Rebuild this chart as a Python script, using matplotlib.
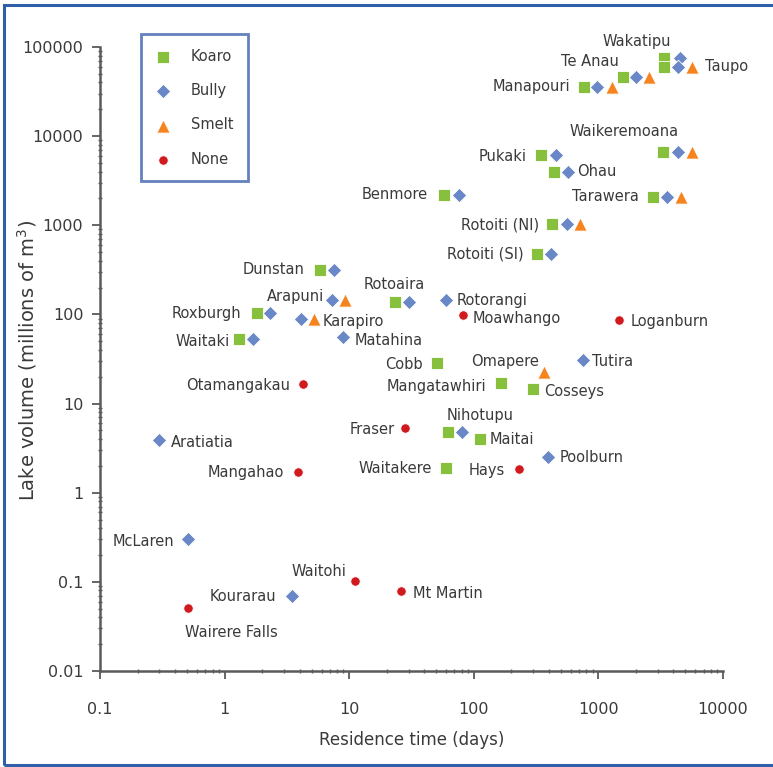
import matplotlib
matplotlib.use('Agg')
import matplotlib.pyplot as plt
from matplotlib.patches import Rectangle

# Koaro
koaro_lakes = ['Wakatipu', 'Taupo', 'Te Anau', 'Manapouri', 'Waikeremoana', 'Pukaki',
               'Ohau', 'Benmore', 'Tarawera', 'Rotoiti (NI)', 'Rotoiti (SI)', 'Dunstan',
               'Roxburgh', 'Waitaki', 'Rotoaira', 'Cobb', 'Mangatawhiri', 'Cosseys',
               'Nihotupu', 'Maitai', 'Waitakere']
koaro_time = [3340, 3340, 1570, 763, 3280, 345, 438, 57.5, 2730, 422, 320, 5.8,
              1.82, 1.30, 23.2, 50.5, 165, 297, 61.8, 112, 59.6]
koaro_volume = [75900, 60100, 46400, 35800, 6680, 6180, 3980, 2200, 2090, 1040, 479, 317,
                104, 53, 138, 28.6, 17.1, 14.6, 4.81, 4.02, 1.90]

# Bully
bully_lakes = ['Wakatipu', 'Taupo', 'Te Anau', 'Manapouri', 'Waikeremoana', 'Pukaki',
               'Ohau', 'Benmore', 'Tarawera', 'Rotoiti (NI)', 'Rotoiti (SI)', 'Dunstan',
               'Arapuni', 'Roxburgh', 'Karapiro', 'Waitaki', 'Matahina', 'Rotoaira',
               'Rotorangi', 'Tutira', 'Nihotupu', 'Poolburn', 'Aratiatia', 'McLaren',
               'Kourarau']
bully_time = [4490, 4330, 1990, 970, 4330, 455, 567, 75.8, 3530, 557, 415, 7.5,
              7.26, 2.31, 4.10, 1.69, 8.9, 30.1, 59.6, 749, 80.1, 392, 0.297, 0.508, 3.47]
bully_volume = [75900, 60100, 46400, 35800, 6680, 6180, 3980, 2200, 2090, 1040, 479, 317,
                146, 104, 89.3, 53, 56.1, 138, 146, 30.9, 4.81, 2.52, 3.92, 0.303, 0.0695]

# Smelt
smelt_lakes = ['Taupo', 'Te Anau', 'Manapouri', 'Waikeremoana', 'Tarawera', 'Rotoiti (NI)',
               'Arapuni', 'Karapiro', 'Omapere']
smelt_time = [5610, 2530, 1280, 5610, 4570, 708, 9.23, 5.21, 364]
smelt_volume = [60100, 46400, 35800, 6680, 2090, 1040, 146, 89.3, 22.7]

# None
none_lakes = ['Moawhango', 'Loganburn', 'Otamangakau', 'Fraser', 'Mangahao', 'Hays',
              'Waitohi', 'Mt Martin', 'Wairere Falls']
none_time = [81.6, 1456, 4.25, 27.9, 3.87, 230, 11.1, 26.0, 0.508]
none_volume = [99, 87, 16.6, 5.34, 1.71, 1.85, 0.102, 0.079, 0.051]

species = {
    'Koaro': (koaro_lakes, koaro_time, koaro_volume),
    'Bully': (bully_lakes, bully_time, bully_volume),
    'Smelt': (smelt_lakes, smelt_time, smelt_volume),
    'None': (none_lakes, none_time, none_volume),
}
styles = {
    'Koaro': dict(marker='s', s=76, color='#86c03c'),
    'Bully': dict(marker='D', s=54, color='#6a88c8'),
    'Smelt': dict(marker='^', s=90, color='#f5841f'),
    'None': dict(marker='o', s=46, color='#d01a1e'),
}

# label: (anchor series, dx px, dy px, ha)
labels = {
    'Wakatipu': ('Koaro', -27, 16, 'center'),
    'Te Anau': ('Koaro', -4, 15, 'right'),
    'Taupo': ('Smelt', 13, 0, 'left'),
    'Manapouri': ('Koaro', -14, 0, 'right'),
    'Waikeremoana': ('Koaro', -39, 20, 'center'),
    'Pukaki': ('Koaro', -14, -2, 'right'),
    'Ohau': ('Bully', 9, 0, 'left'),
    'Benmore': ('Koaro', -16, 0, 'right'),
    'Tarawera': ('Koaro', -14, 0, 'right'),
    'Rotoiti (NI)': ('Koaro', -13, -1, 'right'),
    'Rotoiti (SI)': ('Koaro', -13, 0, 'right'),
    'Dunstan': ('Koaro', -15, 0, 'right'),
    'Rotoaira': ('Koaro', 0, 17, 'center'),
    'Arapuni': ('Bully', -8, 3, 'right'),
    'Roxburgh': ('Koaro', -16, -1, 'right'),
    'Karapiro': ('Smelt', 9, -3, 'left'),
    'Waitaki': ('Koaro', -9, -2, 'right'),
    'Matahina': ('Bully', 12, -4, 'left'),
    'Otamangakau': ('None', -13, -2, 'right'),
    'Aratiatia': ('Bully', 12, -3, 'left'),
    'Mangahao': ('None', -14, -1, 'right'),
    'Rotorangi': ('Bully', 11, -1, 'left'),
    'Moawhango': ('None', 10, -4, 'left'),
    'Loganburn': ('None', 12, -2, 'left'),
    'Cobb': ('Koaro', -14, -2, 'right'),
    'Omapere': ('Smelt', -5, 10, 'right'),
    'Tutira': ('Bully', 9, -2, 'left'),
    'Mangatawhiri': ('Koaro', -15, -4, 'right'),
    'Cosseys': ('Koaro', 11, -3, 'left'),
    'Fraser': ('None', -10, -2, 'right'),
    'Nihotupu': ('Koaro', -1, 16, 'left'),
    'Maitai': ('Koaro', 10, -1, 'left'),
    'Poolburn': ('Bully', 12, -1, 'left'),
    'Waitakere': ('Koaro', -14, -1, 'right'),
    'Hays': ('None', -14, -2, 'right'),
    'McLaren': ('Bully', -14, -3, 'right'),
    'Waitohi': ('None', -8, 10, 'right'),
    'Kourarau': ('Bully', -16, -1, 'right'),
    'Wairere Falls': ('None', -3, -25, 'left'),
    'Mt Martin': ('None', 12, -3, 'left'),
}

text_color = '#3a3a3a'
axis_color = '#5a5a5a'

fig = plt.figure(figsize=(7.73, 7.67), dpi=100)
ax = fig.add_axes([100 / 773, 96 / 767, 623 / 773, 624 / 767])

for name, (lakes, t, v) in species.items():
    ax.scatter(t, v, label=name, edgecolors='white', linewidths=0.6, zorder=3,
               **styles[name])

for lake, (sp, dx, dy, ha) in labels.items():
    lakes, t, v = species[sp]
    i = lakes.index(lake)
    ax.annotate(lake, (t[i], v[i]), xytext=(dx, dy), textcoords='offset pixels',
                ha=ha, va='center', fontsize=10.5, color=text_color)

ax.set_xscale('log')
ax.set_yscale('log')
ax.set_xlim(0.1, 10000)
ax.set_ylim(0.01, 100000)
ax.set_xticks([0.1, 1, 10, 100, 1000, 10000])
ax.set_xticklabels(['0.1', '1', '10', '100', '1000', '10000'])
ax.set_yticks([0.01, 0.1, 1, 10, 100, 1000, 10000, 100000])
ax.set_yticklabels(['0.01', '0.1', '1', '10', '100', '1000', '10000', '100000'])

for s in ['top', 'right']:
    ax.spines[s].set_visible(False)
for s in ['left', 'bottom']:
    ax.spines[s].set_color(axis_color)
    ax.spines[s].set_linewidth(1.8)

ax.tick_params(axis='both', which='major', direction='out', length=6, width=1.3,
               color=axis_color, labelsize=11.5, labelcolor=text_color)
ax.tick_params(axis='y', which='major', pad=6)
ax.tick_params(axis='x', which='major', pad=16)
ax.tick_params(axis='both', which='minor', direction='inout', length=3, width=1.0,
               color=axis_color)

ax.set_xlabel('Residence time (days)', fontsize=12, color=text_color, va='center')
ax.xaxis.set_label_coords(0.5, (671 - 740) / 624)
ax.set_ylabel('Lake volume (millions of m$^3$)', fontsize=14, color=text_color, va='center')
ax.yaxis.set_label_coords((27 - 100) / 623, (671 - 360) / 624)

leg = ax.legend(loc='upper left', bbox_to_anchor=(141 / 773, 1 - 34 / 767),
                bbox_transform=fig.transFigure, fontsize=10.5, frameon=True,
                fancybox=False, handlelength=1.0, handletextpad=1.4,
                borderpad=1.0, labelspacing=1.33, borderaxespad=0)
leg.get_frame().set_edgecolor('#3b62ad')
leg.get_frame().set_linewidth(2)
for txt in leg.get_texts():
    txt.set_color(text_color)

fig.patches.append(Rectangle((4 / 773, 2 / 767), 1.1, 1 - 7 / 767,
                             transform=fig.transFigure, fill=False,
                             edgecolor='#2e5fa8', linewidth=2.2))

fig.savefig('out.png', dpi=100)
